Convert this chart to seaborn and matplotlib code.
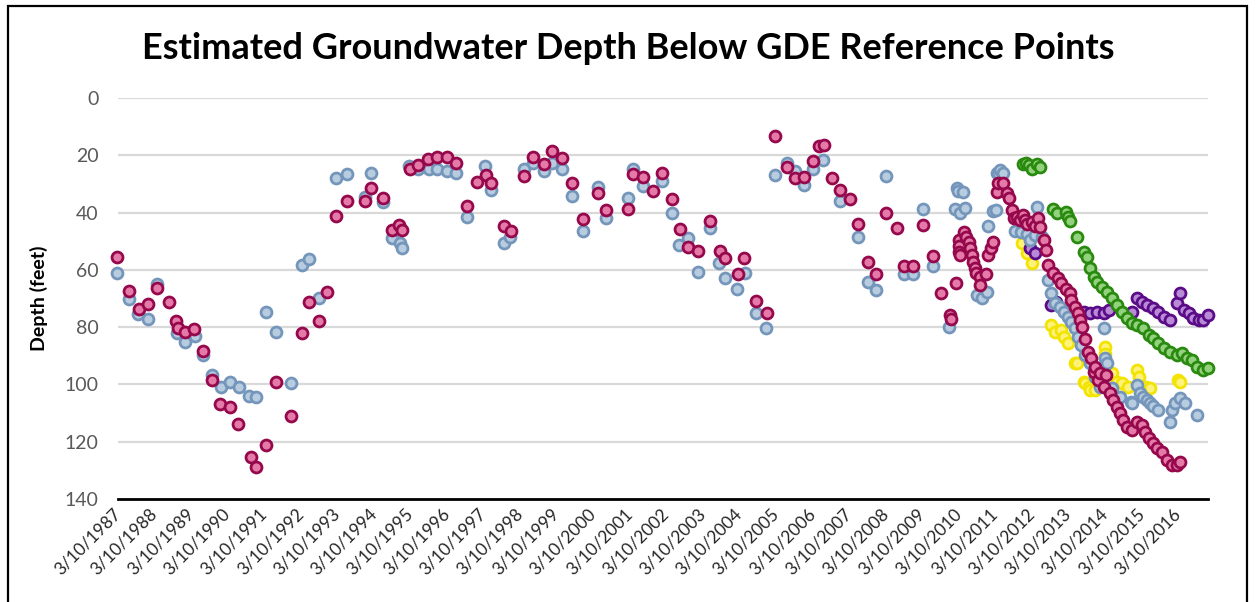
import pandas as pd
import matplotlib.pyplot as plt
import matplotlib.patches as mpatches
import seaborn as sns

# --- data (decimal year, depth in feet) ---
site_a_year = [1987.16, 1987.49, 1987.74, 1988.01, 1988.26, 1988.79, 1989.01, 1989.29, 1989.50, 1989.76,
               1989.99, 1990.26, 1990.49, 1990.77, 1990.97, 1991.22, 1991.50, 1991.91, 1992.21, 1992.42,
               1992.69, 1993.16, 1993.45, 1993.94, 1994.10, 1994.44, 1994.67, 1994.90, 1994.94, 1995.15,
               1995.40, 1995.70, 1995.92, 1996.18, 1996.42, 1996.74, 1997.22, 1997.38, 1997.75, 1997.91,
               1998.29, 1998.53, 1998.84, 1999.06, 1999.34, 1999.59, 1999.89, 2000.32, 2000.53, 2001.13,
               2001.26, 2001.54, 2002.06, 2002.35, 2002.54, 2002.78, 2003.04, 2003.38, 2003.63, 2003.79,
               2004.11, 2004.34, 2004.64, 2004.91, 2005.16, 2005.48, 2005.70, 2005.95, 2006.19, 2006.48,
               2006.94, 2007.42, 2007.69, 2007.92, 2008.19, 2008.69, 2008.94, 2009.20, 2009.47, 2009.92,
               2010.08, 2010.12, 2010.17, 2010.22, 2010.29, 2010.36, 2010.68, 2010.82, 2010.95, 2010.99,
               2011.13, 2011.20, 2011.22, 2011.26, 2011.31, 2011.40, 2011.73, 2011.87, 2012.05, 2012.14,
               2012.27, 2012.32, 2012.45, 2012.62, 2012.71, 2012.80, 2012.94, 2013.07, 2013.16, 2013.26,
               2013.35, 2013.44, 2013.53, 2013.63, 2013.76, 2013.90, 2014.03, 2014.14, 2014.19, 2014.23,
               2014.37, 2014.60, 2014.88, 2014.91, 2015.05, 2015.14, 2015.23, 2015.32, 2015.41, 2015.50,
               2015.64, 2015.96, 2016.01, 2016.10, 2016.23, 2016.37, 2016.69]
site_a_depth = [61.2, 70.3, 75.5, 77.2, 65.1, 82.2, 85.3, 83.0, 89.7, 96.7,
                100.8, 99.3, 101.0, 104.0, 104.3, 74.8, 81.6, 99.6, 58.3, 56.3,
                69.9, 28.0, 26.5, 34.5, 26.1, 36.2, 49.0, 50.7, 52.3, 23.7,
                24.6, 24.6, 24.6, 25.5, 26.1, 41.4, 23.6, 32.1, 50.5, 48.4,
                24.6, 22.8, 25.5, 22.8, 24.6, 34.2, 46.4, 31.0, 41.8, 35.0,
                24.6, 30.6, 29.0, 40.0, 51.3, 49.0, 60.6, 45.5, 57.7, 62.7,
                66.5, 61.2, 75.0, 80.4, 26.9, 22.5, 25.5, 30.4, 24.6, 21.6,
                36.0, 48.6, 64.4, 67.0, 27.2, 61.6, 61.6, 38.8, 58.5, 79.8,
                38.9, 31.5, 32.4, 40.3, 32.9, 38.3, 68.8, 69.9, 67.6, 44.7,
                39.3, 39.1, 26.3, 26.3, 25.1, 26.1, 46.3, 46.7, 47.3, 49.6,
                47.8, 37.9, 48.4, 63.5, 68.2, 71.7, 72.9, 74.6, 76.4, 78.1,
                80.4, 83.3, 86.2, 89.7, 92.6, 97.3, 100.8, 80.4, 90.9, 92.6,
                101.4, 104.3, 106.0, 106.6, 100.2, 103.1, 104.3, 105.4, 106.6, 107.6,
                108.9, 113.0, 108.9, 106.6, 104.9, 106.6, 110.7]

site_b_year = [1987.16, 1987.49, 1987.76, 1988.01, 1988.26, 1988.59, 1988.76, 1988.83, 1989.01, 1989.26,
               1989.51, 1989.76, 1989.97, 1990.26, 1990.47, 1990.81, 1990.96, 1991.22, 1991.50, 1991.91,
               1992.21, 1992.42, 1992.67, 1992.90, 1993.16, 1993.45, 1993.94, 1994.10, 1994.44, 1994.67,
               1994.88, 1994.94, 1995.17, 1995.40, 1995.66, 1995.92, 1996.19, 1996.42, 1996.74, 1997.01,
               1997.24, 1997.38, 1997.75, 1997.93, 1998.29, 1998.53, 1998.84, 1999.06, 1999.34, 1999.59,
               1999.89, 2000.32, 2000.53, 2001.13, 2001.26, 2001.54, 2001.83, 2002.06, 2002.35, 2002.56,
               2002.78, 2003.06, 2003.38, 2003.65, 2003.79, 2004.13, 2004.32, 2004.64, 2004.93, 2005.16,
               2005.48, 2005.70, 2005.95, 2006.19, 2006.37, 2006.50, 2006.71, 2006.94, 2007.21, 2007.42,
               2007.69, 2007.92, 2008.19, 2008.49, 2008.69, 2008.94, 2009.20, 2009.47, 2009.70, 2009.94,
               2009.97, 2010.11, 2010.20, 2010.20, 2010.20, 2010.22, 2010.31, 2010.37, 2010.45, 2010.49,
               2010.54, 2010.58, 2010.63, 2010.66, 2010.77, 2010.77, 2010.93, 2010.99, 2011.06, 2011.13,
               2011.22, 2011.26, 2011.38, 2011.49, 2011.56, 2011.63, 2011.70, 2011.77, 2011.85, 2011.95,
               2011.99, 2012.05, 2012.18, 2012.27, 2012.36, 2012.41, 2012.50, 2012.57, 2012.62, 2012.76,
               2012.89, 2012.99, 2013.12, 2013.21, 2013.26, 2013.35, 2013.44, 2013.49, 2013.55, 2013.63,
               2013.72, 2013.81, 2013.87, 2013.90, 2014.00, 2014.03, 2014.14, 2014.22, 2014.32, 2014.41,
               2014.50, 2014.59, 2014.68, 2014.78, 2014.91, 2015.05, 2015.19, 2015.28, 2015.37, 2015.50,
               2015.60, 2015.73, 2015.87, 2016.01, 2016.14, 2016.23]
site_b_depth = [55.6, 67.3, 73.7, 72.0, 66.2, 71.3, 77.8, 80.4, 81.6, 80.7,
                88.3, 98.5, 106.9, 107.8, 113.9, 125.2, 128.7, 121.2, 99.3, 110.9,
                82.2, 71.1, 77.7, 67.8, 41.2, 35.8, 35.8, 31.5, 35.0, 46.1,
                44.3, 46.1, 24.9, 23.4, 21.2, 20.5, 20.5, 22.5, 37.6, 29.2,
                26.9, 29.8, 44.6, 46.4, 27.2, 20.5, 23.0, 18.4, 21.1, 29.8,
                42.2, 33.1, 39.1, 38.8, 26.5, 27.5, 32.4, 26.1, 35.4, 45.8,
                51.9, 53.4, 42.9, 53.4, 56.0, 61.6, 56.0, 70.8, 75.2, 13.2,
                24.0, 27.8, 27.5, 22.0, 16.8, 16.4, 27.8, 32.1, 35.3, 44.1,
                57.4, 61.5, 40.0, 45.5, 58.5, 58.5, 44.3, 55.1, 68.2, 75.8,
                77.2, 64.5, 49.6, 51.7, 53.7, 54.8, 46.7, 48.4, 50.2, 52.5,
                54.8, 57.1, 59.5, 61.2, 62.4, 65.3, 61.6, 54.8, 52.5, 50.2,
                32.7, 29.8, 29.8, 33.0, 35.0, 39.1, 42.0, 41.4, 42.5, 40.8,
                42.6, 44.0, 43.2, 44.5, 42.0, 45.1, 49.6, 53.1, 58.3, 61.2,
                63.0, 64.7, 66.5, 68.2, 70.5, 72.9, 75.2, 77.5, 80.0, 84.1,
                88.6, 90.9, 95.6, 93.8, 98.5, 96.1, 100.8, 96.7, 103.1, 105.4,
                107.8, 110.1, 112.4, 114.8, 115.9, 113.0, 114.2, 116.5, 118.8, 120.6,
                122.3, 123.5, 126.4, 128.1, 128.1, 127.0]

site_c_year = [2011.91, 2012.05, 2012.18, 2012.71, 2012.80, 2012.99, 2013.07, 2013.16, 2013.35, 2013.41,
               2013.60, 2013.63, 2013.74, 2013.76, 2013.92, 2014.19, 2014.19, 2014.36, 2014.50, 2014.64,
               2014.80, 2015.05, 2015.10, 2015.30, 2015.41, 2016.18, 2016.23]
site_c_depth = [50.7, 54.2, 57.7, 79.3, 81.6, 81.0, 83.3, 85.7, 92.6, 92.6,
                99.0, 99.6, 100.8, 102.0, 102.0, 86.8, 89.2, 96.0, 99.0, 99.6,
                101.0, 95.0, 97.5, 100.8, 101.4, 98.5, 99.0]

site_d_year = [2011.95, 2012.02, 2012.09, 2012.18, 2012.32, 2012.41, 2012.75, 2012.86, 2013.12, 2013.18,
               2013.23, 2013.41, 2013.61, 2013.68, 2013.78, 2013.87, 2013.96, 2014.10, 2014.23, 2014.37,
               2014.50, 2014.64, 2014.78, 2014.91, 2015.05, 2015.23, 2015.37, 2015.50, 2015.64, 2015.78,
               2015.96, 2016.14, 2016.28, 2016.42, 2016.55, 2016.69, 2016.87, 2017.00]
site_d_depth = [23.0, 22.8, 23.4, 24.6, 23.0, 24.2, 38.9, 40.0, 39.7, 41.5,
                42.9, 48.4, 53.9, 55.4, 59.5, 62.4, 64.1, 65.9, 67.6, 69.9,
                72.3, 74.6, 76.9, 78.7, 79.3, 80.4, 82.8, 83.9, 85.7, 87.4,
                88.6, 89.7, 89.1, 90.9, 91.5, 93.8, 95.0, 94.4]

site_e_year = [2012.14, 2012.27, 2012.69, 2012.83, 2013.05, 2013.30, 2013.60, 2013.78, 2013.96, 2014.14,
               2014.28, 2014.91, 2015.05, 2015.19, 2015.32, 2015.50, 2015.64, 2015.78, 2015.96, 2016.14,
               2016.23, 2016.33, 2016.47, 2016.60, 2016.74, 2016.87, 2017.00]
site_e_depth = [52.5, 54.2, 72.3, 71.1, 74.5, 75.0, 74.6, 75.2, 74.6, 75.2,
                74.0, 74.6, 69.9, 71.1, 72.3, 73.4, 74.6, 76.4, 77.5, 71.7,
                68.2, 74.0, 75.2, 76.9, 77.5, 77.5, 75.8]

tick_labels = [f"3/10/{y}" for y in range(1987, 2017)]

# (face, edge) per site, in drawing order
styles = {
    "C": ("#fff27a", "#f2e400", site_c_year, site_c_depth),
    "E": ("#b98ad6", "#5a0c88", site_e_year, site_e_depth),
    "A": ("#b8cce0", "#7596bb", site_a_year, site_a_depth),
    "B": ("#e57aa8", "#96084c", site_b_year, site_b_depth),
    "D": ("#92d27c", "#2a8a10", site_d_year, site_d_depth),
}


def to_year(s):
    d = pd.to_datetime(s, format="%m/%d/%Y")
    return d.year + (d.dayofyear - 1) / 365.0


sns.set_style("white")
plt.rcParams['font.family'] = ['Lato', 'DejaVu Sans']

fig = plt.figure(figsize=(12.57, 6.02), dpi=100)
ax = fig.add_axes([0.0939, 0.1711, 0.8671, 0.666])

for name, (face, edge, xs, ys) in styles.items():
    df = pd.DataFrame({"year": xs, "depth": ys})
    sns.scatterplot(data=df, x="year", y="depth", ax=ax, color=face, edgecolor=edge,
                    linewidth=2.0, s=62, clip_on=False, legend=False, zorder=3)

tick_pos = [to_year(t) for t in tick_labels]
ax.set_xlim(tick_pos[0], tick_pos[0] + 29.81)
ax.set_ylim(140, 0)
ax.set_yticks(range(0, 141, 20))
ax.set_xticks(tick_pos)
ax.set_xticklabels(tick_labels, rotation=45, ha='right', va='center',
                   rotation_mode='anchor', fontsize=12.5, color='#262626')
ax.tick_params(axis='x', direction='out', length=5, width=1.5, color='black', pad=4)
ax.tick_params(axis='y', length=0, labelsize=14, labelcolor='#595959', pad=14)

for v in range(0, 140, 20):
    ax.axhline(v, color='#d9d9d9', linewidth=1.6, zorder=1)
for side in ['left', 'right', 'top']:
    ax.spines[side].set_visible(False)
ax.spines['bottom'].set_color('black')
ax.spines['bottom'].set_linewidth(2)

ax.set_xlabel('')
ax.set_ylabel('Depth (feet)', fontsize=14, fontweight='bold', color='#000000', labelpad=12)

fig.text(0.5, 0.92, 'Estimated Groundwater Depth Below GDE Reference Points',
         ha='center', va='center', fontsize=26, fontweight='bold', color='black')

fig.patches.append(mpatches.Rectangle((0.0064, -0.02), 0.9857, 1.01, transform=fig.transFigure,
                                      fill=False, edgecolor='black', linewidth=1.6))

plt.savefig('out.png', dpi=100)
